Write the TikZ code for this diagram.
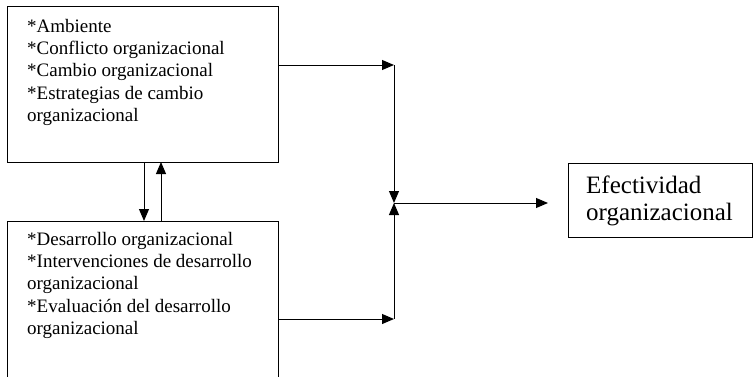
\documentclass[tikz,border=0pt]{standalone}
\usepackage{fontspec}
\setmainfont{Liberation Serif}
\usetikzlibrary{arrows.meta}
\begin{document}
\begin{tikzpicture}[x=1pt,y=-1pt,
  box/.style={draw,line width=1pt},
  conn/.style={line width=1pt},
  arr/.style={conn,-{Triangle[length=12pt,width=10pt]}},
  txt/.style={anchor=north west,inner sep=0pt,font=\fontsize{19}{22.3}\selectfont,align=left},
  big/.style={anchor=north west,inner sep=0pt,font=\fontsize{25}{27}\selectfont,align=left}]
\useasboundingbox (0,0) rectangle (753,376);
% boxes
\draw[box] (7,6) rectangle (278,162);
\draw[box] (278,376.5) -- (278,221) -- (7,221) -- (7,376.5);
\draw[box] (568,163) rectangle (752,237);
\node (top) [txt] at (27,19) {*Ambiente\\*Conflicto organizacional\\*Cambio organizacional\\*Estrategias de cambio\\organizacional};
\node (bot) [txt] at (27,232) {*Desarrollo organizacional\\*Intervenciones de desarrollo\\organizacional\\*Evaluación del desarrollo\\organizacional};
\node (ef) [big] at (586,176) {Efectividad\\organizacional};
% connector points
\coordinate (a1) at (144,162);
\coordinate (a2) at (144,221);
\coordinate (b1) at (161,221);
\coordinate (b2) at (161,162);
\coordinate (t0) at (278,65);
\coordinate (tc) at (394,65);
\coordinate (u0) at (278,319);
\coordinate (uc) at (394,319);
\coordinate (j) at (394,203);
\coordinate (e) at (548,203);
% connectors
\draw[arr] (a1) -- (a2);
\draw[arr] (b1) -- (b2);
\draw[arr] (t0) -- (tc);
\draw[arr] (u0) -- (uc);
\draw[arr] (tc) -- (j);
\draw[arr] (uc) -- (j);
\draw[arr] (j) -- (e);
\end{tikzpicture}
\end{document}
